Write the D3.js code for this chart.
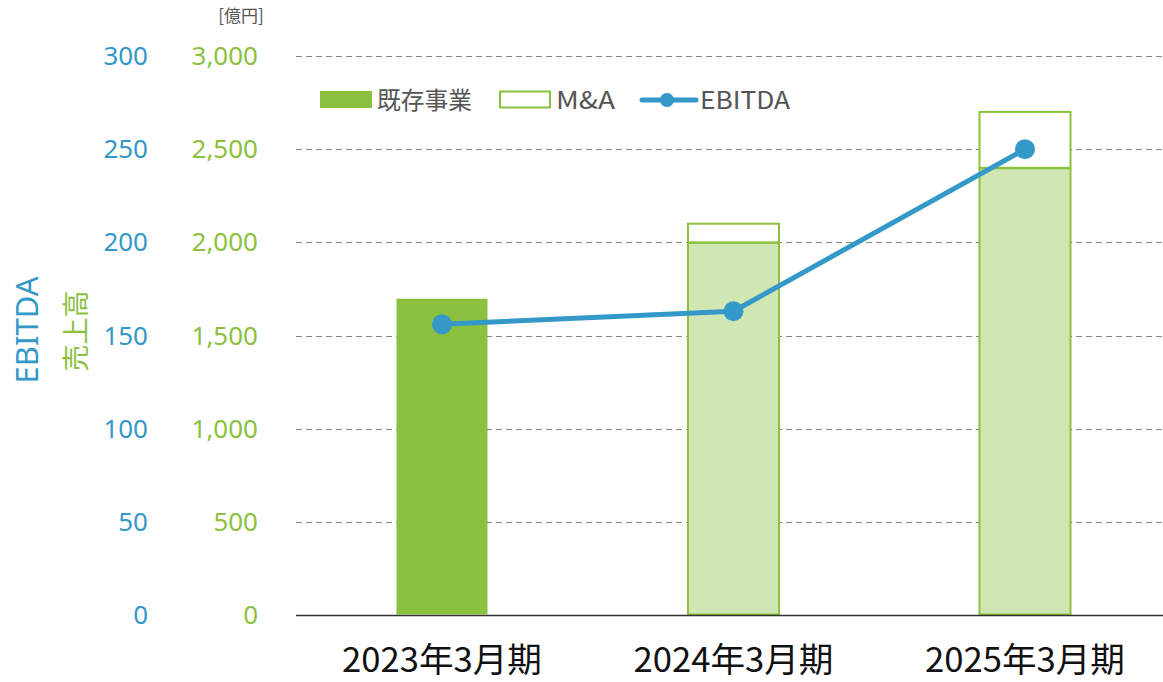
<!DOCTYPE html>
<html><head><meta charset="utf-8">
<script src="https://cdn.jsdelivr.net/npm/d3@7"></script>
<style>body{margin:0;background:#fff}</style>
</head><body>
<svg id="c" width="1163" height="682"></svg>
<script>
const categories = ["2023年3月期","2024年3月期","2025年3月期"];
const existing = [1700, 2000, 2400];
const mna = [0, 100, 300];
const ebitda = [156, 163, 250];
const salesTicks = [0,500,1000,1500,2000,2500,3000];
const ebitdaTicks = [0,50,100,150,200,250,300];
const legendLabels = ["既存事業","M&A","EBITDA"];

const GREEN="#8cc13f", LIGHT="#d1e7b3", BLUE="#3498c8", GRAY="#555";
const svg=d3.select("#c");
const L=296,R=1163,T=56,B=615;
const x=d3.scaleBand().domain(categories).range([296.25,1170.75]).paddingInner(0.6844).paddingOuter(0.3422);
const yS=d3.scaleLinear().domain([0,3000]).range([B,T]);
const yE=d3.scaleLinear().domain([0,300]).range([B,T]);
const font="'Noto Sans','Open Sans',sans-serif";

// grid
svg.append("g").selectAll("line").data(salesTicks.filter(d=>d>0)).join("line")
 .attr("x1",L).attr("x2",R).attr("y1",d=>Math.round(yS(d))+0.5).attr("y2",d=>Math.round(yS(d))+0.5)
 .attr("stroke","#888").attr("stroke-dasharray","6,4").attr("stroke-width",1);

// tick labels
svg.append("g").selectAll("text").data(ebitdaTicks).join("text")
 .attr("x",148).attr("y",d=>yE(d)+9).attr("text-anchor","end").attr("fill",BLUE)
 .attr("font-family",font).attr("font-size",26).text(d=>d3.format(",")(d));
svg.append("g").selectAll("text").data(salesTicks).join("text")
 .attr("x",258).attr("y",d=>yS(d)+9).attr("text-anchor","end").attr("fill",GREEN)
 .attr("font-family",font).attr("font-size",26).text(d=>d3.format(",")(d));

svg.append("text").attr("transform","translate(38,330) rotate(-90)").attr("text-anchor","middle")
 .attr("fill",BLUE).attr("font-family",font).attr("font-size",31).text("EBITDA");
svg.append("text").attr("transform","translate(86,331) rotate(-90)").attr("text-anchor","middle")
 .attr("fill",GREEN).attr("font-family","'Noto Sans CJK JP',sans-serif").attr("font-size",27).text("売上高");
svg.append("text").attr("x",241).attr("y",22).attr("text-anchor","middle").attr("fill",GRAY)
 .attr("font-family","'Noto Sans CJK JP',sans-serif").attr("font-size",17).text("[億円]");

// bars
const bw=x.bandwidth();
categories.forEach((c,i)=>{
  const solid = mna[i]===0;
  svg.append("rect").attr("x",x(c)+0.5).attr("width",bw-1)
    .attr("y",yS(existing[i])+0.5).attr("height",yS(0)-yS(existing[i])-1)
    .attr("fill",solid?GREEN:LIGHT).attr("stroke",GREEN).attr("stroke-width",solid?0:2);
  if(mna[i]>0){
    svg.append("rect").attr("x",x(c)+0.5).attr("width",bw-1)
      .attr("y",yS(existing[i]+mna[i])).attr("height",yS(existing[i])-yS(existing[i]+mna[i]))
      .attr("fill","#fff").attr("stroke",GREEN).attr("stroke-width",2);
  }
});

// axis line
svg.append("line").attr("x1",L).attr("x2",R).attr("y1",B+0.5).attr("y2",B+0.5).attr("stroke","#333").attr("stroke-width",1.5);

// x labels
svg.append("g").selectAll("text").data(categories).join("text")
 .attr("x",d=>x(d)+bw/2).attr("y",672).attr("text-anchor","middle").attr("fill","#111")
 .attr("font-family","'Noto Sans CJK JP',sans-serif").attr("font-size",34)
 .attr("textLength",200).attr("lengthAdjust","spacingAndGlyphs").text(d=>d);

// line
const line=d3.line().x((d,i)=>x(categories[i])+bw/2).y(d=>yE(d));
svg.append("path").datum(ebitda).attr("d",line).attr("fill","none").attr("stroke",BLUE).attr("stroke-width",5);
svg.append("g").selectAll("circle").data(ebitda).join("circle")
 .attr("cx",(d,i)=>x(categories[i])+bw/2).attr("cy",d=>yE(d)).attr("r",10).attr("fill",BLUE);

// legend
const lg=svg.append("g");
lg.append("rect").attr("x",320).attr("y",91).attr("width",52).attr("height",17).attr("fill",GREEN);
lg.append("rect").attr("x",500).attr("y",91.5).attr("width",50).attr("height",16).attr("fill","#fff").attr("stroke",GREEN).attr("stroke-width",2);
lg.append("line").attr("x1",642).attr("x2",696).attr("y1",100).attr("y2",100).attr("stroke",BLUE).attr("stroke-width",5).attr("stroke-linecap","round");
lg.append("circle").attr("cx",667).attr("cy",100).attr("r",7).attr("fill",BLUE);
const lx=[377,556,700], lw=[95,59,90];
lg.selectAll("text").data(legendLabels).join("text").attr("x",(d,i)=>lx[i]).attr("y",109)
 .attr("fill",GRAY).attr("font-family","'Noto Sans CJK JP','Noto Sans',sans-serif").attr("font-size",24)
 .attr("textLength",(d,i)=>lw[i]).attr("lengthAdjust","spacingAndGlyphs").text(d=>d);
</script>
</body></html>
